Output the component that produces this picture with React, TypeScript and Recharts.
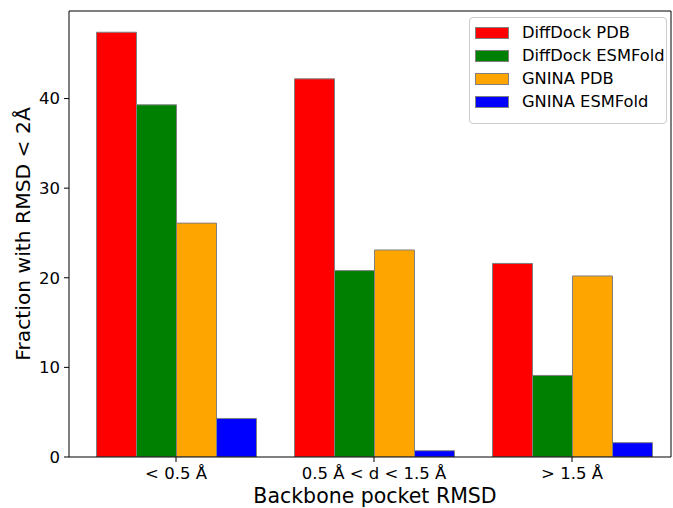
import React from "react";
import {
  BarChart,
  Bar,
  XAxis,
  YAxis,
  Legend,
  ReferenceLine,
  Label,
} from "recharts";

const categories = ["< 0.5 Å", "0.5 Å < d < 1.5 Å", "> 1.5 Å"];
const diffdockPdb = [47.4, 42.2, 21.6];
const diffdockEsmfold = [39.3, 20.8, 9.1];
const gninaPdb = [26.1, 23.1, 20.2];
const gninaEsmfold = [4.3, 0.7, 1.6];
const yTicks = [0, 10, 20, 30, 40];

const series = [
  { key: "ddPdb", name: "DiffDock PDB", color: "#ff0000", values: diffdockPdb },
  { key: "ddEsm", name: "DiffDock ESMFold", color: "#008000", values: diffdockEsmfold },
  { key: "gnPdb", name: "GNINA PDB", color: "#ffa500", values: gninaPdb },
  { key: "gnEsm", name: "GNINA ESMFold", color: "#0000ff", values: gninaEsmfold },
];

const data = categories.map((name, i) => {
  const row: Record<string, string | number> = { name };
  series.forEach((s) => (row[s.key] = s.values[i]));
  return row;
});

const FONT = "'DejaVu Sans', sans-serif";
const YMAX = 49.77;

function LegendBox() {
  return (
    <div
      style={{
        width: 196,
        height: 102,
        border: "1px solid #cccccc",
        borderRadius: 4,
        background: "rgba(255,255,255,0.8)",
        boxSizing: "content-box",
        paddingTop: 3,
        fontFamily: FONT,
        fontSize: 16.3,
      }}
    >
      {series.map((s) => (
        <div key={s.key} style={{ display: "flex", alignItems: "center", height: 23 }}>
          <div
            style={{
              marginLeft: 5,
              width: 32,
              height: 10,
              background: s.color,
              border: "1px solid #808080",
            }}
          />
          <span style={{ marginLeft: 13, color: "#000" }}>{s.name}</span>
        </div>
      ))}
    </div>
  );
}

export default function App() {
  return (
    <div style={{ position: "absolute", left: 0, top: 0, background: "#fff" }}>
      <BarChart
        width={673}
        height={508}
        data={data}
        margin={{ top: 11, right: 0, bottom: 0, left: 0 }}
        barCategoryGap={19.5}
        barGap={0}
      >
        <XAxis
          dataKey="name"
          height={51}
          padding={{ left: 8, right: 0 }}
          tick={{ fill: "#000", fontSize: 16.5, fontFamily: FONT }}
          tickLine={{ stroke: "#000" }}
          axisLine={{ stroke: "#000" }}
          tickSize={5}
          tickMargin={5}
        >
          <Label
            value="Backbone pocket RMSD"
            position="center"
            dx={5}
            dy={13}
            style={{ fill: "#000", fontSize: 20.5, fontFamily: FONT }}
          />
        </XAxis>
        <YAxis
          width={69}
          domain={[0, YMAX]}
          ticks={yTicks}
          type="number"
          allowDataOverflow
          tick={{ fill: "#000", fontSize: 16.5, fontFamily: FONT }}
          tickLine={{ stroke: "#000" }}
          axisLine={{ stroke: "#000" }}
          tickSize={5}
          tickMargin={4}
        >
          <Label
            value="Fraction with RMSD < 2Å"
            position="center"
            angle={-90}
            dx={-12}
            style={{ fill: "#000", fontSize: 20.3, fontFamily: FONT, textAnchor: "middle" }}
          />
        </YAxis>
        <YAxis
          yAxisId="right"
          orientation="right"
          width={2}
          domain={[0, 1]}
          type="number"
          tick={false}
          tickLine={false}
          axisLine={{ stroke: "#000" }}
        />
        <ReferenceLine y={YMAX} stroke="#000" ifOverflow="extendDomain" />
        <Legend
          layout="vertical"
          align="center"
          verticalAlign="middle"
          wrapperStyle={{ top: 17, left: 469, width: 198 }}
          content={() => <LegendBox />}
        />
        {series.map((s) => (
          <Bar
            key={s.key}
            dataKey={s.key}
            name={s.name}
            fill={s.color}
            stroke="#808080"
            strokeWidth={1}
            isAnimationActive={false}
          />
        ))}
      </BarChart>
    </div>
  );
}
